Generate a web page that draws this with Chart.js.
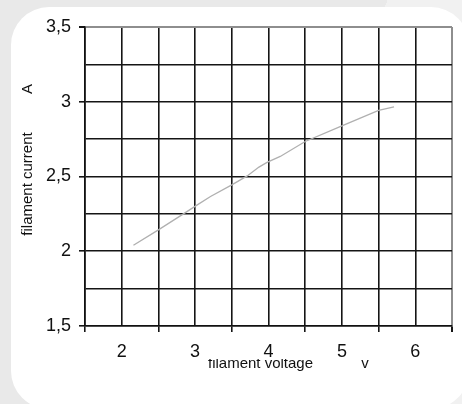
<!DOCTYPE html>
<html>
<head>
<meta charset="utf-8">
<script src="https://cdn.jsdelivr.net/npm/chart.js@4.4.1/dist/chart.umd.min.js"></script>
<style>
  html, body { margin: 0; padding: 0; }
  body {
    width: 462px; height: 404px; overflow: hidden; position: relative;
    background: linear-gradient(112deg, #e9e9e9 62%, #f1f1f1 62%);
  }
  #panel {
    position: absolute; left: 11px; top: 7px; width: 458px; height: 402px;
    background: #fff; border-radius: 38px;
  }
  #wrap { position: absolute; left: 0; top: 0; width: 462px; height: 404px; }
</style>
</head>
<body>
<div id="panel"></div>
<div id="wrap"><canvas id="myChart" width="462" height="404"></canvas></div>
<script>
// filament voltage (V) and filament current (A)
const voltage = [2.16, 2.5, 2.82, 3.03, 3.21, 3.5, 3.71, 3.87, 3.98, 4.16, 4.5, 5.0, 5.25, 5.5, 5.71];
const current = [2.04, 2.143, 2.243, 2.31, 2.366, 2.444, 2.504, 2.563, 2.594, 2.634, 2.734, 2.839, 2.891, 2.942, 2.965];

const xTitle = "filament voltage";
const xUnit = "v";
const yTitle = "filament current";
const yUnit = "A";

const FONT = '"Liberation Sans", Arial, sans-serif';
const GRID = "#151515";
const EDGE = "#8e8e8e";
const NONE = "rgba(0,0,0,0)";

const axisTitles = {
  id: "axisTitles",
  afterDraw(chart) {
    const ctx = chart.ctx;
    ctx.save();
    ctx.fillStyle = "#111";
    ctx.font = "15px " + FONT;
    ctx.textAlign = "center";
    ctx.textBaseline = "alphabetic";

    ctx.save();
    ctx.translate(31.5, 184);
    ctx.rotate(-Math.PI / 2);
    ctx.fillText(yTitle, 0, 0);
    ctx.restore();

    ctx.save();
    ctx.translate(31.5, 89);
    ctx.rotate(-Math.PI / 2);
    ctx.fillText(yUnit, 0, 0);
    ctx.restore();

    // the x title is cut off at the top in the original
    ctx.save();
    ctx.beginPath();
    ctx.rect(0, 359, 462, 30);
    ctx.clip();
    ctx.fillText(xTitle, 260.5, 368);
    ctx.restore();
    ctx.fillText(xUnit, 365, 368);

    ctx.restore();
  }
};

const points = voltage.map((v, i) => ({ x: v, y: current[i] }));

new Chart(document.getElementById("myChart").getContext("2d"), {
  type: "line",
  data: {
    datasets: [{
      data: points,
      borderColor: "#b0b0b0",
      borderWidth: 1.3,
      pointRadius: 0,
      tension: 0,
      fill: false
    }]
  },
  options: {
    responsive: false,
    animation: false,
    layout: { padding: { left: 0, top: 27, right: 10, bottom: 28 } },
    plugins: { legend: { display: false }, tooltip: { enabled: false } },
    scales: {
      x: {
        type: "linear",
        min: 1.5,
        max: 6.5,
        afterFit: s => { s.height = 50; },
        ticks: {
          stepSize: 0.5,
          autoSkip: false,
          maxRotation: 0,
          padding: 9,
          color: "#111",
          font: { family: FONT, size: 18 },
          callback: v => Number.isInteger(v) ? String(v) : ""
        },
        grid: {
          color: c => c.tick && c.tick.value === 6.5 ? EDGE : GRID,
          lineWidth: c => c.tick && c.tick.value === 6.5 ? 2 : 1.6,
          tickLength: 6,
          tickColor: c => c.tick && Number.isInteger(c.tick.value) ? NONE : GRID
        },
        border: { color: "#111", width: 1.6 }
      },
      y: {
        min: 1.5,
        max: 3.5,
        afterFit: s => { s.width = 85; },
        ticks: {
          stepSize: 0.25,
          autoSkip: false,
          padding: 8,
          color: "#111",
          font: { family: FONT, size: 18 },
          callback: v => Number.isInteger(v * 2) ? String(v).replace(".", ",") : ""
        },
        grid: {
          color: c => c.tick && c.tick.value === 3.5 ? EDGE : GRID,
          lineWidth: c => c.tick && c.tick.value === 3.5 ? 2 : 1.6,
          tickLength: 6,
          tickColor: c => c.tick && Number.isInteger(c.tick.value * 2) ? GRID : NONE
        },
        border: { color: "#111", width: 1.6 }
      }
    }
  },
  plugins: [axisTitles]
});
</script>
</body>
</html>
